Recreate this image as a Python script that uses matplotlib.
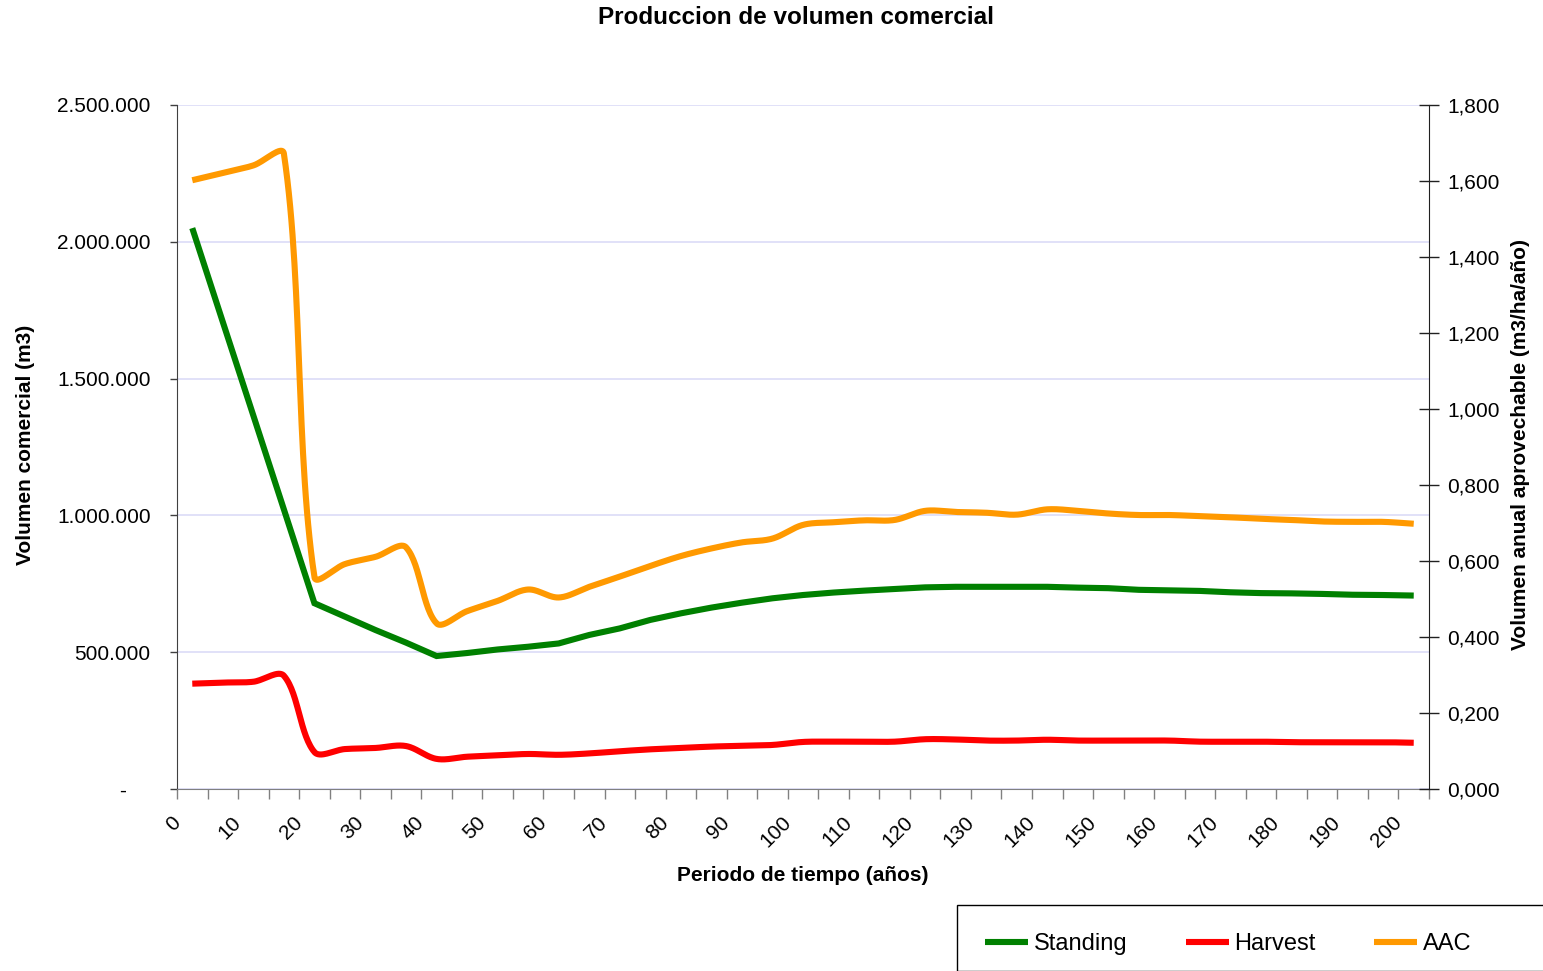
import numpy as np
import matplotlib
matplotlib.use("Agg")
import matplotlib.pyplot as plt
from matplotlib.ticker import FixedLocator, FuncFormatter, NullFormatter
from matplotlib.lines import Line2D
from matplotlib.patches import Rectangle

plt.rcParams['font.family'] = ['Liberation Sans', 'DejaVu Sans']

# ---------------- data ----------------
years = list(range(0, 205, 5))

standing = [2050000, 1707000, 1365000, 1022000, 679000, 630000, 581000, 535000, 486000,
            497000, 510000, 520000, 532000, 563000, 587000, 618000, 642000, 663000,
            681000, 697000, 709000, 718000, 725000, 731000, 737000, 739000, 739000,
            739000, 739000, 736000, 734000, 728000, 726000, 724000, 719000, 716000,
            715000, 713000, 710000, 709000, 707000]

harvest = [385000, 389000, 392000, 414000, 135000, 146000, 150000, 157000, 110000,
           118000, 123000, 128000, 125000, 130000, 138000, 145000, 150000, 155000,
           158000, 161000, 172000, 173000, 173000, 173000, 182000, 181000, 177000,
           177000, 180000, 177000, 177000, 177000, 177000, 173000, 173000, 173000,
           171000, 171000, 171000, 171000, 169000]

aac = [1.602, 1.621, 1.641, 1.672, 0.558, 0.592, 0.611, 0.636, 0.436, 0.468, 0.495,
       0.525, 0.504, 0.532, 0.559, 0.587, 0.613, 0.633, 0.649, 0.659, 0.695, 0.702,
       0.707, 0.708, 0.732, 0.729, 0.727, 0.722, 0.736, 0.732, 0.725, 0.721, 0.721,
       0.718, 0.715, 0.711, 0.708, 0.704, 0.703, 0.703, 0.698]

x_labels = [str(v) for v in range(0, 210, 10)]
left_ticks = [0, 500000, 1000000, 1500000, 2000000, 2500000]
right_ticks = [0.0, 0.2, 0.4, 0.6, 0.8, 1.0, 1.2, 1.4, 1.6, 1.8]

title = "Produccion de volumen comercial"
xlabel = "Periodo de tiempo (años)"
ylabel_left = "Volumen comercial (m3)"
ylabel_right = "Volumen anual aprovechable (m3/ha/año)"
series_names = ["Standing", "Harvest", "AAC"]
colors = ["#008000", "#FF0000", "#FF9900"]

W, H = 1543, 971
L, R, T, B = 177, 1429, 105, 789
XMIN, XMAX = -2.5, 202.5


def smooth(xs, ys, ymax, n=30):
    """Excel-style smoothed line: Bezier segments whose control points are
    weighted by the on-screen length of neighbouring segments."""
    sx = (R - L) / (XMAX - XMIN)
    sy = (B - T) / ymax
    P = np.column_stack([np.asarray(xs, float) * sx, np.asarray(ys, float) * sy])
    m = len(P)
    Pe = np.vstack([P[0], P, P[-1]])
    d = np.linalg.norm(np.diff(Pe, axis=0), axis=1)
    out = []
    s = np.linspace(0, 1, n, endpoint=False)[:, None]
    for i in range(m - 1):
        p0, p1, p2, p3 = Pe[i], Pe[i + 1], Pe[i + 2], Pe[i + 3]
        d01, d12, d23 = d[i], d[i + 1], d[i + 2]
        f1 = d12 / (d01 + d12) if d01 + d12 > 0 else 0.5
        f2 = d12 / (d12 + d23) if d12 + d23 > 0 else 0.5
        c1 = p1 + (p2 - p0) * f1 / 3.0
        c2 = p2 - (p3 - p1) * f2 / 3.0
        b = ((1 - s) ** 3) * p1 + 3 * ((1 - s) ** 2) * s * c1 + 3 * (1 - s) * s ** 2 * c2 + s ** 3 * p2
        out.append(b)
    out.append(P[-1][None, :])
    Q = np.vstack(out)
    return Q[:, 0] / sx, Q[:, 1] / sy


fig = plt.figure(figsize=(W / 100, H / 100), dpi=100)
ax = fig.add_axes([L / W, 1 - B / H, (R - L) / W, (B - T) / H])
ax2 = ax.twinx()

lw = 4.4
ax.plot(years, standing, color=colors[0], lw=lw, solid_capstyle='butt',
        solid_joinstyle='miter', zorder=3)
hx, hy = smooth(years, harvest, 2500000)
ax.plot(hx, hy, color=colors[1], lw=lw, solid_capstyle='butt', zorder=3)
axx, ay = smooth(years, aac, 1.8)
ax2.plot(axx, ay, color=colors[2], lw=lw, solid_capstyle='butt', zorder=3)

ax.set_xlim(XMIN, XMAX)
ax.set_ylim(0, 2500000)
ax2.set_ylim(0, 1.8)

# tick marks at category boundaries (minor), labels every other boundary (major, no mark)
px = (XMAX - XMIN) / (R - L)  # data units per pixel
ax.xaxis.set_minor_locator(FixedLocator([XMIN + 5 * k for k in range(42)]))
ax.xaxis.set_minor_formatter(NullFormatter())
ax.xaxis.set_major_locator(FixedLocator([XMIN + 10 * j + 7 * px for j in range(len(x_labels))]))
ax.set_xticklabels(x_labels, rotation=45, ha='right', fontsize=15)

ax.yaxis.set_major_locator(FixedLocator(left_ticks))
ax.yaxis.set_major_formatter(FuncFormatter(
    lambda v, p: "-" + "\u2007" * 2 if v == 0 else f"{v:,.0f}".replace(",", ".")))
ax2.yaxis.set_major_locator(FixedLocator(right_ticks))
ax2.yaxis.set_major_formatter(FuncFormatter(lambda v, p: f"{v:.3f}".replace(".", ",")))

ax.tick_params(axis='x', which='minor', direction='out', length=7, width=1, color='#808080')
ax.tick_params(axis='x', which='major', length=0, pad=17)
ax.tick_params(axis='y', direction='out', length=5, width=1, color='#404040', pad=14,
               labelsize=15)
ax2.tick_params(axis='y', direction='inout', length=14, width=1, color='#202020', pad=6,
                labelsize=15)

for a in (ax, ax2):
    a.spines['top'].set_visible(False)
ax.spines['right'].set_visible(False)
ax.spines['left'].set_color('#404040')
ax.spines['bottom'].set_color('#808080')
ax2.spines['left'].set_visible(False)
ax2.spines['bottom'].set_visible(False)
ax2.spines['right'].set_color('#202020')

ax.grid(axis='y', which='major', color='#dcdcf7', lw=1.2, zorder=0)
ax.set_axisbelow(True)

fig.text(796 / W, 1 - 17 / H, title, ha='center', va='center', fontsize=17.5,
         fontweight='bold')
fig.text(803 / W, 1 - 875 / H, xlabel, ha='center', va='center', fontsize=15,
         fontweight='bold')
fig.text(26 / W, 1 - 445 / H, ylabel_left, ha='center', va='center', fontsize=15,
         fontweight='bold', rotation=90)
fig.text(1520 / W, 1 - 445 / H, ylabel_right, ha='center', va='center', fontsize=15,
         fontweight='bold', rotation=90)

# legend box (extends past the right/bottom edge, as in the reference)
fig.add_artist(Rectangle((957 / W, 0), 1.0, 1 - 905 / H, transform=fig.transFigure,
                         facecolor='white', edgecolor='black', lw=1.0, zorder=4))
handles = [Line2D([], [], color=c, lw=lw, solid_capstyle='butt') for c in colors]
leg = fig.legend(handles, series_names, loc='upper left',
                 bbox_to_anchor=(957 / W, 1 - 905 / H), ncol=3, fontsize=17,
                 frameon=False, borderaxespad=0,
                 handlelength=1.82, handletextpad=0.25, columnspacing=2.45,
                 borderpad=1.2)
leg.set_zorder(5)

fig.savefig("out.png", dpi=100)
